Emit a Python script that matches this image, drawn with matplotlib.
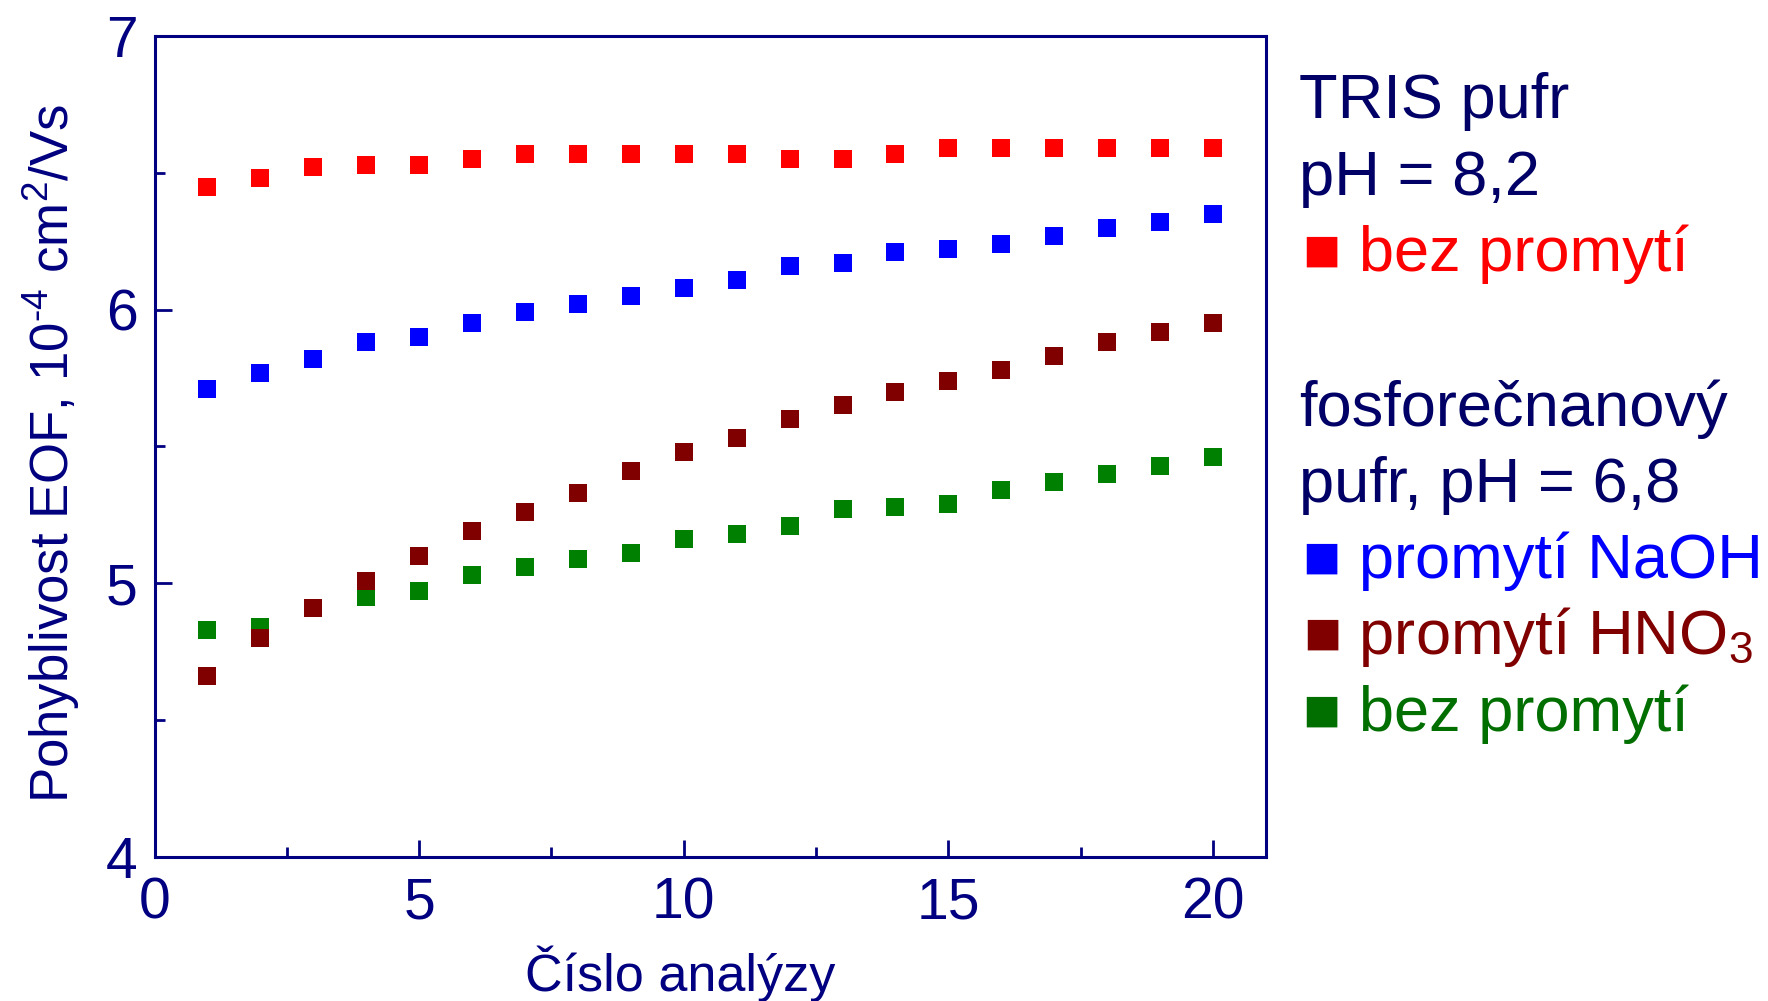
import numpy as np
import matplotlib
matplotlib.use('Agg')
import matplotlib.pyplot as plt


plt.rcParams['font.family'] = ['Liberation Sans', 'DejaVu Sans']
plt.rcParams['mathtext.fontset'] = 'custom'
plt.rcParams['mathtext.rm'] = 'Liberation Sans'
plt.rcParams['mathtext.it'] = 'Liberation Sans'
plt.rcParams['mathtext.default'] = 'regular'


# cislo analyzy
x = np.arange(1, 21)

# pohyblivost EOF, 10^-4 cm2/Vs
tris_bez = [6.45, 6.48, 6.52, 6.53, 6.53, 6.55, 6.57, 6.57, 6.57, 6.57,
            6.57, 6.55, 6.55, 6.57, 6.59, 6.59, 6.59, 6.59, 6.59, 6.59]
fosf_naoh = [5.71, 5.77, 5.82, 5.88, 5.90, 5.95, 5.99, 6.02, 6.05, 6.08,
             6.11, 6.16, 6.17, 6.21, 6.22, 6.24, 6.27, 6.30, 6.32, 6.35]
fosf_hno3 = [4.66, 4.80, 4.91, 5.01, 5.10, 5.19, 5.26, 5.33, 5.41, 5.48,
             5.53, 5.60, 5.65, 5.70, 5.74, 5.78, 5.83, 5.88, 5.92, 5.95]
fosf_bez = [4.83, 4.84, 4.91, 4.95, 4.97, 5.03, 5.06, 5.09, 5.11, 5.16,
            5.18, 5.21, 5.27, 5.28, 5.29, 5.34, 5.37, 5.40, 5.43, 5.46]

navy = '#000080'
c_red, c_blue, c_brown, c_green = '#ff0000', '#0000ff', '#800000', '#008000'


fig = plt.figure(figsize=(17.68, 10.01), dpi=100)
ax = fig.add_axes([0.0874, 0.144, 0.6286, 0.820])

param = dict(ls='none', marker='s', markersize=12.5, markeredgewidth=0)
ax.plot(x, tris_bez, color=c_red, **param)
ax.plot(x, fosf_naoh, color=c_blue, **param)
ax.plot(x, fosf_bez, color=c_green, **param)
ax.plot(x, fosf_hno3, color=c_brown, **param)

ax.set_xlim(0, 21)
ax.set_ylim(4, 7)
ax.set_xticks([0, 5, 10, 15, 20])
ax.set_xticks([2.5, 7.5, 12.5, 17.5], minor=True)
ax.set_yticks([4, 5, 6, 7])
ax.set_yticks([4.5, 5.5, 6.5], minor=True)

for s in ax.spines.values():
    s.set_color(navy)
    s.set_linewidth(2.2)

ax.tick_params(which='both', direction='in', color=navy, width=2,
               top=False, right=False, labelcolor=navy, labelsize=41)
ax.tick_params(which='major', length=12)
ax.tick_params(which='minor', length=7)
ax.tick_params(axis='x', pad=14)
ax.tick_params(axis='y', pad=12)

ax.set_xlabel('Číslo analýzy', fontsize=37.5, color=navy)
ax.xaxis.set_label_coords(0.473, -0.108)
ax.set_ylabel(r'Pohyblivost EOF, 10$^{\text{-}4}$ cm$^2$/Vs', fontsize=38,
              color=navy, va='center')
ax.yaxis.set_label_coords(-0.093, 0.492)


# legenda jako text vpravo
header = '#000066'
fs = 45.5
lx, mx = 0.735, 0.737
fig.text(lx, 0.882, 'TRIS pufr', color=header, fontsize=fs, va='baseline')
fig.text(lx, 0.805, 'pH = 8,2', color=header, fontsize=fs, va='baseline')
fig.text(mx, 0.729, '■ bez promytí', color=c_red, fontsize=fs, va='baseline')
fig.text(lx, 0.574, 'fosforečnanový', color=header, fontsize=fs, va='baseline')
fig.text(lx, 0.499, 'pufr, pH = 6,8', color=header, fontsize=fs, va='baseline')
fig.text(mx, 0.423, '■ promytí NaOH', color=c_blue, fontsize=fs, va='baseline')
fig.text(mx, 0.347, '■ promytí HNO$_3$', color=c_brown, fontsize=fs, va='baseline')
fig.text(mx, 0.270, '■ bez promytí', color='#006f00', fontsize=fs, va='baseline')

fig.savefig('out.png', dpi=100)
